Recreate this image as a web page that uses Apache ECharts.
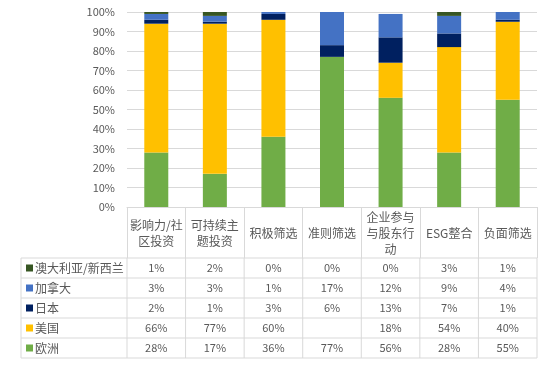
<!DOCTYPE html>
<html><head><meta charset="utf-8">
<script src="https://cdn.jsdelivr.net/npm/echarts@6/dist/echarts.min.js"></script>
<style>html,body{margin:0;padding:0;background:#fff}#c{width:550px;height:365px}</style>
</head><body><div id="c"></div>
<script>
const categories = ['影响力/社\n区投资','可持续主\n题投资','积极筛选','准则筛选','企业参与\n与股东行\n动','ESG整合','负面筛选'];
const europe = [28,17,36,77,56,28,55];
const usa    = [66,77,60,null,18,54,40];
const japan  = [2,1,3,6,13,7,1];
const canada = [3,3,1,17,12,9,4];
const anz    = [1,2,0,0,0,3,1];
const yMin = 0, yMax = 100, yStep = 10;

const seriesDefs = [
  {name:'欧洲', data:europe, color:'#70AD47'},
  {name:'美国', data:usa, color:'#FFC000'},
  {name:'日本', data:japan, color:'#002060'},
  {name:'加拿大', data:canada, color:'#4472C4'},
  {name:'澳大利亚/新西兰', data:anz, color:'#375623'}
];

const G = {left:127, top:12, width:410, height:195};
const headerH = 51, rowH = 20, tableLeft = 21;
const font = '"Noto Sans CJK SC","Microsoft YaHei",sans-serif';
const gridColor = '#D9D9D9', textColor = '#595959';

const chart = echarts.init(document.getElementById('c'));
chart.setOption({
  animation:false,
  grid:{left:G.left, top:G.top, width:G.width, height:G.height, containLabel:false},
  xAxis:{type:'category', data:categories,
    axisLine:{lineStyle:{color:gridColor}},
    axisTick:{show:true, length:headerH, lineStyle:{color:gridColor}},
    axisLabel:{interval:0, color:textColor, fontSize:12, fontFamily:font, lineHeight:16, verticalAlign:'middle', margin:26}
  },
  yAxis:{type:'value', min:yMin, max:yMax, interval:yStep,
    axisLine:{show:false}, axisTick:{show:false},
    splitLine:{lineStyle:{color:gridColor}},
    axisLabel:{formatter:'{value}%', color:textColor, fontSize:11, fontFamily:font, margin:12}
  },
  series: seriesDefs.map(s=>({type:'bar', name:s.name, stack:'a', data:s.data, barWidth:24,
    itemStyle:{color:s.color}}))
});

// data table
const graphics = [];
const rows = seriesDefs.slice().reverse();
const tableTop = G.top + G.height + headerH;
const right = G.left + G.width;
const colW = G.width / categories.length;
for (let i=0;i<=rows.length;i++){
  const y = tableTop + i*rowH;
  graphics.push({type:'line', shape:{x1:tableLeft,y1:y,x2:right,y2:y}, style:{stroke:gridColor,lineWidth:1}});
}
graphics.push({type:'line', shape:{x1:tableLeft,y1:tableTop,x2:tableLeft,y2:tableTop+rows.length*rowH}, style:{stroke:gridColor}});
for (let c=0;c<=categories.length;c++){
  const x = G.left + c*colW;
  graphics.push({type:'line', shape:{x1:x,y1:tableTop,x2:x,y2:tableTop+rows.length*rowH}, style:{stroke:gridColor}});
}
rows.forEach((s,i)=>{
  const cy = tableTop + i*rowH + rowH/2;
  graphics.push({type:'rect', shape:{x:26,y:cy-3.5,width:7,height:7}, style:{fill:s.color}});
  graphics.push({type:'text', style:{text:s.name, x:35, y:cy, fill:textColor, font:'12px '+font, verticalAlign:'middle', align:'left'}});
  s.data.forEach((v,j)=>{
    const cx = chart.convertToPixel({xAxisIndex:0}, j);
    graphics.push({type:'text', style:{text: v==null?'':v+'%', x:cx, y:cy, fill:textColor, font:'11px '+font, align:'center', verticalAlign:'middle'}});
  });
});
chart.setOption({graphic:graphics});
</script></body></html>
